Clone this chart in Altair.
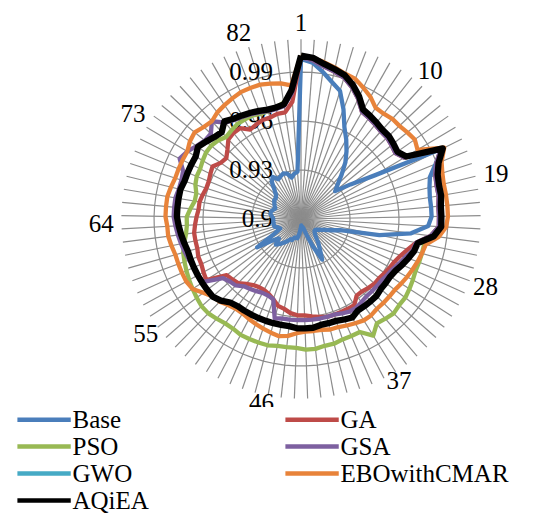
import altair as alt
import pandas as pd

# ---------------- data ----------------
N_CAT = 85
categories = list(range(1, N_CAT + 1))
series_names = ["Base", "GA", "PSO", "GSA", "GWO", "EBOwithCMAR", "AQiEA"]
series_colors = ["#4A7EBB", "#BE4B48", "#98B954", "#7D60A0", "#46AAC5", "#E8833A", "#000000"]
# legend entries are laid out column by column; this order reads row by row
legend_order = ["Base", "PSO", "GWO", "AQiEA", "GA", "GSA", "EBOwithCMAR"]

base = [0.998, 0.996, 0.991, 0.986, 0.982, 0.972, 0.962, 0.956, 0.950, 0.944,
        0.937, 0.931, 0.927, 0.937, 0.952, 0.996, 0.989, 0.983, 0.981, 0.980,
        0.980, 0.980, 0.978, 0.968, 0.949, 0.925, 0.920, 0.916, 0.914, 0.912,
        0.911, 0.911, 0.912, 0.914, 0.918, 0.922, 0.928, 0.918, 0.910, 0.906,
        0.905, 0.905, 0.904, 0.906, 0.909, 0.912, 0.912, 0.912, 0.914, 0.914,
        0.916, 0.918, 0.920, 0.922, 0.918, 0.922, 0.932, 0.918, 0.914, 0.915,
        0.917, 0.917, 0.917, 0.917, 0.917, 0.918, 0.919, 0.919, 0.918, 0.917,
        0.918, 0.919, 0.920, 0.920, 0.921, 0.924, 0.929, 0.931, 0.928, 0.929,
        0.930, 0.929, 0.926, 0.928, 0.929]

ga = [1.000, 0.9975, 0.9945, 0.9925, 0.9905, 0.9865, 0.9815, 0.9755, 0.9745, 0.9735,
      0.9725, 0.9725, 0.9715, 0.9705, 0.9735, 0.9955, 0.9895, 0.9865, 0.9855, 0.9855,
      0.9845, 0.9845, 0.9845, 0.980, 0.972, 0.968, 0.965, 0.963, 0.962, 0.961,
      0.960, 0.960, 0.959, 0.958, 0.958, 0.962, 0.962, 0.962, 0.962, 0.962,
      0.961, 0.960, 0.959, 0.959, 0.958, 0.956, 0.955, 0.952, 0.950, 0.949,
      0.949, 0.950, 0.952, 0.955, 0.956, 0.957, 0.969, 0.968, 0.967, 0.967,
      0.966, 0.966, 0.966, 0.965, 0.964, 0.963, 0.963, 0.962, 0.961, 0.961,
      0.962, 0.963, 0.960, 0.959, 0.962, 0.966, 0.967, 0.967, 0.963, 0.964,
      0.965, 0.965, 0.966, 0.966, 0.972]

pso = [1.000, 0.998, 0.995, 0.993, 0.991, 0.987, 0.982, 0.976, 0.975, 0.974,
       0.973, 0.973, 0.972, 0.971, 0.974, 0.996, 0.990, 0.987, 0.986, 0.986,
       0.985, 0.985, 0.985, 0.982, 0.977, 0.977, 0.977, 0.977, 0.978, 0.979,
       0.980, 0.980, 0.981, 0.980, 0.979, 0.984, 0.978, 0.978, 0.978, 0.979,
       0.979, 0.980, 0.980, 0.979, 0.979, 0.979, 0.980, 0.980, 0.980, 0.980,
       0.979, 0.979, 0.980, 0.981, 0.981, 0.980, 0.979, 0.978, 0.977, 0.976,
       0.975, 0.973, 0.971, 0.970, 0.970, 0.968, 0.966, 0.966, 0.968, 0.969,
       0.969, 0.970, 0.971, 0.971, 0.970, 0.968, 0.969, 0.970, 0.970, 0.970,
       0.969, 0.969, 0.970, 0.972, 0.979]

gsa = [0.999, 0.9975, 0.9945, 0.9925, 0.9905, 0.9865, 0.9815, 0.9755, 0.9745, 0.9735,
       0.9725, 0.9725, 0.9715, 0.9705, 0.9735, 0.9955, 0.9895, 0.9865, 0.9855, 0.9855,
       0.9845, 0.9845, 0.9845, 0.980, 0.972, 0.971, 0.968, 0.966, 0.964, 0.963,
       0.962, 0.962, 0.962, 0.962, 0.963, 0.964, 0.964, 0.963, 0.962, 0.962,
       0.962, 0.962, 0.962, 0.962, 0.962, 0.962, 0.963, 0.952, 0.951, 0.951,
       0.952, 0.953, 0.954, 0.957, 0.958, 0.960, 0.971, 0.972, 0.972, 0.973,
       0.974, 0.975, 0.976, 0.977, 0.978, 0.978, 0.978, 0.977, 0.977, 0.978,
       0.983, 0.981, 0.978, 0.976, 0.976, 0.981, 0.975, 0.973, 0.972, 0.971,
       0.970, 0.969, 0.969, 0.970, 0.977]

gwo = [1.000, 0.999, 0.996, 0.994, 0.992, 0.988, 0.983, 0.977, 0.976, 0.975,
       0.974, 0.974, 0.973, 0.972, 0.975, 0.997, 0.991, 0.988, 0.987, 0.987,
       0.986, 0.986, 0.986, 0.982, 0.973, 0.972, 0.970, 0.968, 0.966, 0.965,
       0.965, 0.965, 0.966, 0.966, 0.966, 0.966, 0.968, 0.967, 0.966, 0.966,
       0.966, 0.967, 0.967, 0.967, 0.966, 0.966, 0.966, 0.966, 0.966, 0.966,
       0.966, 0.966, 0.967, 0.970, 0.972, 0.972, 0.972, 0.972, 0.972, 0.972,
       0.972, 0.973, 0.974, 0.975, 0.976, 0.976, 0.976, 0.976, 0.975, 0.975,
       0.975, 0.975, 0.977, 0.975, 0.973, 0.972, 0.976, 0.974, 0.973, 0.972,
       0.971, 0.970, 0.970, 0.971, 0.979]

ebo = [1.000, 0.999, 0.997, 0.995, 0.993, 0.992, 0.989, 0.986, 0.982, 0.982,
       0.983, 0.983, 0.984, 0.985, 0.983, 0.998, 0.993, 0.991, 0.990, 0.990,
       0.990, 0.990, 0.989, 0.985, 0.978, 0.977, 0.976, 0.975, 0.974, 0.973,
       0.972, 0.972, 0.972, 0.972, 0.973, 0.973, 0.972, 0.971, 0.970, 0.970,
       0.969, 0.969, 0.969, 0.970, 0.972, 0.973, 0.972, 0.971, 0.970, 0.969,
       0.968, 0.968, 0.969, 0.971, 0.972, 0.975, 0.979, 0.980, 0.980, 0.980,
       0.980, 0.981, 0.982, 0.982, 0.983, 0.983, 0.983, 0.982, 0.981, 0.981,
       0.981, 0.981, 0.983, 0.984, 0.982, 0.981, 0.983, 0.984, 0.985, 0.986,
       0.986, 0.986, 0.985, 0.984, 0.982]

aqiea = [1.000, 0.999, 0.996, 0.994, 0.992, 0.988, 0.983, 0.977, 0.976, 0.975,
         0.974, 0.974, 0.973, 0.972, 0.975, 0.997, 0.991, 0.988, 0.987, 0.987,
         0.986, 0.986, 0.986, 0.982, 0.973, 0.972, 0.970, 0.968, 0.966, 0.965,
         0.965, 0.965, 0.966, 0.966, 0.966, 0.966, 0.968, 0.967, 0.966, 0.966,
         0.966, 0.967, 0.967, 0.967, 0.966, 0.966, 0.966, 0.966, 0.966, 0.966,
         0.966, 0.966, 0.967, 0.970, 0.972, 0.972, 0.972, 0.972, 0.972, 0.972,
         0.972, 0.973, 0.974, 0.975, 0.976, 0.976, 0.976, 0.976, 0.975, 0.975,
         0.975, 0.975, 0.977, 0.975, 0.973, 0.972, 0.976, 0.974, 0.973, 0.972,
         0.971, 0.970, 0.970, 0.971, 0.979]

all_series = [base, ga, pso, gsa, gwo, ebo, aqiea]

value_ticks = [0.9, 0.93, 0.96, 0.99]
value_tick_labels = ["0.9", "0.93", "0.96", "0.99"]
grid_levels = [0.93, 0.96, 0.99]
category_tick_labels = ["1", "10", "19", "28", "37", "46", "55", "64", "73", "82"]
AXIS_MIN = 0.9
AXIS_MAX = 1.01

# ---------------- layout / style ----------------
W, H = 540, 513
CX, CY = 301, 219          # centre of the radar, px
PX = 1633.0                # px per value unit
FONT = "Liberation Serif"
GRID = "#8C8C8C"

# ---------------- tables ----------------
rows = []
for name, vals in zip(series_names, all_series):
    for i, v in enumerate(vals):
        rows.append({"series": name, "idx": i, "value": v})
    rows.append({"series": name, "idx": N_CAT, "value": vals[0]})
series_df = pd.DataFrame(rows)

spoke_df = pd.DataFrame({"idx": [c - 1 for c in categories]})
grid_df = pd.DataFrame([{"level": lv, "idx": i} for lv in grid_levels for i in range(N_CAT + 1)])
vlab_df = pd.DataFrame({"v": value_ticks, "lab": value_tick_labels})
clab_df = pd.DataFrame({"lab": category_tick_labels,
                        "idx": [int(s) - 1 for s in category_tick_labels]})

xs = alt.Scale(domain=[-CX / PX, (W - CX) / PX], nice=False, zero=False)
ys = alt.Scale(domain=[-(H - CY) / PX, CY / PX], nice=False, zero=False)
TH = f"2*PI*datum.idx/{N_CAT}"
SPAN = AXIS_MAX - AXIS_MIN

spokes = alt.Chart(spoke_df).transform_calculate(
    th=TH, x0="0", y0="0",
    x1=f"{SPAN}*sin(datum.th)", y1=f"{SPAN}*cos(datum.th)"
).mark_rule(color=GRID, strokeWidth=1.2).encode(
    x=alt.X("x0:Q", scale=xs, axis=None),
    y=alt.Y("y0:Q", scale=ys, axis=None),
    x2="x1:Q", y2="y1:Q")

grid = alt.Chart(grid_df).transform_calculate(
    th=TH, rr=f"datum.level-{AXIS_MIN}",
    gx="datum.rr*sin(datum.th)", gy="datum.rr*cos(datum.th)"
).mark_line(color=GRID, strokeWidth=1.2).encode(
    x=alt.X("gx:Q", scale=xs, axis=None),
    y=alt.Y("gy:Q", scale=ys, axis=None),
    detail="level:N", order="idx:Q")

vlabels = alt.Chart(vlab_df).transform_calculate(
    x0="0", vy=f"datum.v-{AXIS_MIN}"
).mark_text(align="right", baseline="middle", dx=-28, font=FONT, fontSize=25,
            color="black").encode(
    x=alt.X("x0:Q", scale=xs, axis=None),
    y=alt.Y("vy:Q", scale=ys, axis=None),
    text="lab:N")

clabels = alt.Chart(clab_df).transform_calculate(
    th=TH, s="sin(datum.th)", c="cos(datum.th)",
    lx=f"(200*datum.s+15*datum.s*datum.c*datum.c)/{PX}",
    ly=f"(192*datum.c+4-22*datum.c*datum.s*datum.s)/{PX}"
).mark_text(align="center", baseline="middle", font=FONT, fontSize=25,
            color="black").encode(
    x=alt.X("lx:Q", scale=xs, axis=None),
    y=alt.Y("ly:Q", scale=ys, axis=None),
    text="lab:N")

legend = alt.Legend(
    title=None, orient="none", legendX=11.5, legendY=407, columns=2,
    columnPadding=126, rowPadding=1, padding=0, fillColor="white",
    symbolType="M-1.2,0H8.5", symbolSize=121, symbolStrokeWidth=4.5,
    labelFont=FONT, labelFontSize=25, labelColor="black", labelOffset=36,
    labelLimit=400)

color_scale = alt.Scale(
    domain=legend_order,
    range=[series_colors[series_names.index(n)] for n in legend_order])

series_layers = []
for name in series_names:
    sw = 6.3 if name == "AQiEA" else 4.3
    layer = alt.Chart(series_df).transform_filter(
        alt.datum.series == name
    ).transform_calculate(
        th=TH, rr=f"datum.value-{AXIS_MIN}",
        px="datum.rr*sin(datum.th)", py="datum.rr*cos(datum.th)"
    ).mark_line(strokeWidth=sw, strokeJoin="round").encode(
        x=alt.X("px:Q", scale=xs, axis=None),
        y=alt.Y("py:Q", scale=ys, axis=None),
        order="idx:Q",
        color=alt.Color("series:N", scale=color_scale, legend=legend))
    series_layers.append(layer)

chart = alt.layer(spokes, grid, vlabels, clabels, *series_layers).properties(
    width=W, height=H, padding=0,
    autosize=alt.AutoSizeParams(type="none")
).configure_view(stroke=None).configure_legend(labelFont=FONT)

chart.save("out.html", embed_options={"renderer": "svg", "actions": False})
